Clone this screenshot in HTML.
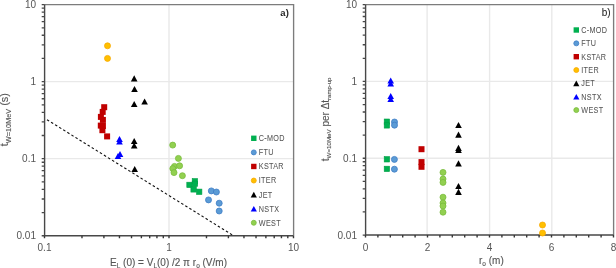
<!DOCTYPE html>
<html><head><meta charset="utf-8"><style>
html,body{margin:0;padding:0;background:#fff;width:616px;height:268px;overflow:hidden}
svg{display:block;will-change:transform;font-family:"Liberation Sans",sans-serif}
</style></head><body>
<svg width="616" height="268" viewBox="0 0 616 268">
<path d="M44.5 81.64999999999999H293.5M44.5 158.7H293.5" stroke="#e9e9e9" stroke-width="1.3" fill="none"/>
<path d="M169.0 4.6V235.75" stroke="#e9e9e9" stroke-width="1.4" fill="none"/>
<path d="M44.5 4.6H293.6V235.75" fill="none" stroke="#7c7c7c" stroke-width="1.35"/>
<path d="M44.6 4.6V235.75H293.5" fill="none" stroke="#484848" stroke-width="1.4"/>
<path d="M41.7 4.6H44.5M41.7 81.64999999999999H44.5M41.7 158.7H44.5M41.7 235.74999999999997H44.5M41.7 58.46H44.5M41.7 44.89H44.5M41.7 35.26H44.5M41.7 27.79H44.5M41.7 21.69H44.5M41.7 16.54H44.5M41.7 12.07H44.5M41.7 8.13H44.5M41.7 135.51H44.5M41.7 121.94H44.5M41.7 112.31H44.5M41.7 104.84H44.5M41.7 98.74H44.5M41.7 93.59H44.5M41.7 89.12H44.5M41.7 85.18H44.5M41.7 212.56H44.5M41.7 198.99H44.5M41.7 189.36H44.5M41.7 181.89H44.5M41.7 175.79H44.5M41.7 170.64H44.5M41.7 166.17H44.5M41.7 162.23H44.5" stroke="#484848" stroke-width="1.3" fill="none"/>
<path d="M44.50 235.75V238.15M169.00 235.75V238.15M293.50 235.75V238.15M81.98 235.75V238.15M103.90 235.75V238.15M119.46 235.75V238.15M131.52 235.75V238.15M141.38 235.75V238.15M149.71 235.75V238.15M156.93 235.75V238.15M163.30 235.75V238.15M206.48 235.75V238.15M228.40 235.75V238.15M243.96 235.75V238.15M256.02 235.75V238.15M265.88 235.75V238.15M274.21 235.75V238.15M281.43 235.75V238.15M287.80 235.75V238.15" stroke="#383838" stroke-width="1.4" fill="none"/>
<text x="36.0" y="8.2" font-size="10" text-anchor="end" fill="#555555" font-weight="normal">10</text>
<text x="36.0" y="85.24999999999999" font-size="10" text-anchor="end" fill="#555555" font-weight="normal">1</text>
<text x="36.0" y="162.29999999999998" font-size="10" text-anchor="end" fill="#555555" font-weight="normal">0.1</text>
<text x="36.0" y="239.34999999999997" font-size="10" text-anchor="end" fill="#555555" font-weight="normal">0.01</text>
<text x="44.5" y="250.6" font-size="10" text-anchor="middle" fill="#555555" font-weight="normal">0.1</text>
<text x="169.0" y="250.6" font-size="10" text-anchor="middle" fill="#555555" font-weight="normal">1</text>
<text x="293.5" y="250.6" font-size="10" text-anchor="middle" fill="#555555" font-weight="normal">10</text>
<text x="288.8" y="16.4" font-size="9.5" text-anchor="end" fill="#262626" font-weight="bold">a)</text>
<text x="110" y="265.7" font-size="10" fill="#555555" stroke="#555555" stroke-width="0.12">E<tspan font-size="6.5" dy="2">L</tspan><tspan dy="-2"> (0) = V</tspan><tspan font-size="6.5" dy="2">L</tspan><tspan dy="-2">(0) /2 π r</tspan><tspan font-size="6.5" dy="2">o</tspan><tspan dy="-2"> (V/m)</tspan></text>
<text transform="translate(8.3 146.2) rotate(-90)" font-size="11" fill="#555555" stroke="#555555" stroke-width="0.12">t<tspan font-size="7.3" dy="2.2">W=10MeV</tspan><tspan dy="-2.2"> (s)</tspan></text>
<path d="M46.2 119.2L232.4 235.0" stroke="#111" stroke-width="1.1" stroke-dasharray="2.55 2.24" stroke-dashoffset="-0.9" fill="none"/>
<circle cx="107.50" cy="45.80" r="3.0" fill="#ffc000" stroke="#f7a800" stroke-width="0.8"/>
<circle cx="107.50" cy="58.40" r="3.0" fill="#ffc000" stroke="#f7a800" stroke-width="0.8"/>
<rect x="101.20" y="104.20" width="6.00" height="6.00" fill="#c00000"/>
<rect x="99.70" y="108.90" width="6.00" height="6.00" fill="#c00000"/>
<rect x="97.90" y="113.90" width="6.00" height="6.00" fill="#c00000"/>
<rect x="99.90" y="116.90" width="6.00" height="6.00" fill="#c00000"/>
<rect x="97.80" y="122.60" width="6.00" height="6.00" fill="#c00000"/>
<rect x="99.90" y="123.00" width="6.00" height="6.00" fill="#c00000"/>
<rect x="99.40" y="127.20" width="6.00" height="6.00" fill="#c00000"/>
<rect x="104.10" y="133.40" width="6.00" height="6.00" fill="#c00000"/>
<path d="M134.20 75.20L137.50 81.40L130.90 81.40Z" fill="#000000"/>
<path d="M134.50 85.90L137.80 92.10L131.20 92.10Z" fill="#000000"/>
<path d="M134.20 100.90L137.50 107.10L130.90 107.10Z" fill="#000000"/>
<path d="M144.60 98.40L147.90 104.60L141.30 104.60Z" fill="#000000"/>
<path d="M134.20 137.90L137.50 144.10L130.90 144.10Z" fill="#000000"/>
<path d="M134.20 142.40L137.50 148.60L130.90 148.60Z" fill="#000000"/>
<path d="M134.70 165.90L138.00 172.10L131.40 172.10Z" fill="#000000"/>
<path d="M119.50 135.90L122.80 142.10L116.20 142.10Z" fill="#0000ff"/>
<path d="M119.50 138.40L122.80 144.60L116.20 144.60Z" fill="#0000ff"/>
<path d="M120.00 150.90L123.30 157.10L116.70 157.10Z" fill="#0000ff"/>
<path d="M118.00 152.90L121.30 159.10L114.70 159.10Z" fill="#0000ff"/>
<circle cx="172.70" cy="145.10" r="3.0" fill="#92d050" stroke="#7abd3e" stroke-width="0.8"/>
<circle cx="178.40" cy="158.40" r="3.0" fill="#92d050" stroke="#7abd3e" stroke-width="0.8"/>
<circle cx="174.50" cy="166.40" r="3.0" fill="#92d050" stroke="#7abd3e" stroke-width="0.8"/>
<circle cx="179.60" cy="165.80" r="3.0" fill="#92d050" stroke="#7abd3e" stroke-width="0.8"/>
<circle cx="172.80" cy="168.60" r="3.0" fill="#92d050" stroke="#7abd3e" stroke-width="0.8"/>
<circle cx="174.00" cy="172.60" r="3.0" fill="#92d050" stroke="#7abd3e" stroke-width="0.8"/>
<circle cx="182.40" cy="175.70" r="3.0" fill="#92d050" stroke="#7abd3e" stroke-width="0.8"/>
<rect x="192.20" y="178.60" width="5.40" height="5.40" fill="#00b050" stroke="#00a046" stroke-width="0.6"/>
<rect x="186.80" y="182.20" width="5.40" height="5.40" fill="#00b050" stroke="#00a046" stroke-width="0.6"/>
<rect x="192.20" y="181.10" width="5.40" height="5.40" fill="#00b050" stroke="#00a046" stroke-width="0.6"/>
<rect x="190.90" y="186.70" width="5.40" height="5.40" fill="#00b050" stroke="#00a046" stroke-width="0.6"/>
<rect x="196.50" y="189.10" width="5.40" height="5.40" fill="#00b050" stroke="#00a046" stroke-width="0.6"/>
<circle cx="211.30" cy="190.90" r="3.0" fill="#5b9bd5" stroke="#3f7ec6" stroke-width="0.8"/>
<circle cx="216.40" cy="192.00" r="3.0" fill="#5b9bd5" stroke="#3f7ec6" stroke-width="0.8"/>
<circle cx="208.50" cy="199.90" r="3.0" fill="#5b9bd5" stroke="#3f7ec6" stroke-width="0.8"/>
<circle cx="219.20" cy="203.20" r="3.0" fill="#5b9bd5" stroke="#3f7ec6" stroke-width="0.8"/>
<circle cx="219.20" cy="211.00" r="3.0" fill="#5b9bd5" stroke="#3f7ec6" stroke-width="0.8"/>
<rect x="251.10" y="135.60" width="5.40" height="5.40" fill="#00b050"/>
<text transform="translate(258.8 141.20) scale(0.86 1)" font-size="8.4" letter-spacing="0.35" fill="#555555" stroke="#555555" stroke-width="0.05">C-MOD</text>
<circle cx="253.80" cy="152.38" r="2.5" fill="#5b9bd5" stroke="#3f7ec6" stroke-width="0.8"/>
<text transform="translate(258.8 155.28) scale(0.86 1)" font-size="8.4" letter-spacing="0.35" fill="#555555" stroke="#555555" stroke-width="0.05">FTU</text>
<rect x="251.10" y="163.76" width="5.40" height="5.40" fill="#c00000"/>
<text transform="translate(258.8 169.36) scale(0.86 1)" font-size="8.4" letter-spacing="0.35" fill="#555555" stroke="#555555" stroke-width="0.05">KSTAR</text>
<circle cx="253.80" cy="180.54" r="2.5" fill="#ffc000" stroke="#f7a800" stroke-width="0.8"/>
<text transform="translate(258.8 183.44) scale(0.86 1)" font-size="8.4" letter-spacing="0.35" fill="#555555" stroke="#555555" stroke-width="0.05">ITER</text>
<path d="M253.80 191.82L256.90 197.42L250.70 197.42Z" fill="#000000"/>
<text transform="translate(258.8 197.52) scale(0.86 1)" font-size="8.4" letter-spacing="0.35" fill="#555555" stroke="#555555" stroke-width="0.05">JET</text>
<path d="M253.80 205.90L256.90 211.50L250.70 211.50Z" fill="#0000ff"/>
<text transform="translate(258.8 211.60) scale(0.86 1)" font-size="8.4" letter-spacing="0.35" fill="#555555" stroke="#555555" stroke-width="0.05">NSTX</text>
<circle cx="253.80" cy="222.78" r="2.5" fill="#92d050" stroke="#7abd3e" stroke-width="0.8"/>
<text transform="translate(258.8 225.68) scale(0.86 1)" font-size="8.4" letter-spacing="0.35" fill="#555555" stroke="#555555" stroke-width="0.05">WEST</text>
<path d="M365.5 81.41666666666667H613.5M365.5 158.23333333333335H613.5" stroke="#e9e9e9" stroke-width="1.3" fill="none"/>
<path d="M427.1 4.6V235.05M489.6 4.6V235.05M551.8 4.6V235.05" stroke="#e9e9e9" stroke-width="1.4" fill="none"/>
<path d="M365.5 4.6H613.6V235.05" fill="none" stroke="#7c7c7c" stroke-width="1.35"/>
<path d="M365.6 4.6V235.05H613.5" fill="none" stroke="#484848" stroke-width="1.4"/>
<path d="M362.7 4.6H365.5M362.7 81.41666666666667H365.5M362.7 158.23333333333335H365.5M362.7 235.05000000000004H365.5M362.7 58.29H365.5M362.7 44.77H365.5M362.7 35.17H365.5M362.7 27.72H365.5M362.7 21.64H365.5M362.7 16.50H365.5M362.7 12.04H365.5M362.7 8.11H365.5M362.7 135.11H365.5M362.7 121.58H365.5M362.7 111.99H365.5M362.7 104.54H365.5M362.7 98.46H365.5M362.7 93.32H365.5M362.7 88.86H365.5M362.7 84.93H365.5M362.7 211.93H365.5M362.7 198.40H365.5M362.7 188.80H365.5M362.7 181.36H365.5M362.7 175.28H365.5M362.7 170.13H365.5M362.7 165.68H365.5M362.7 161.75H365.5" stroke="#484848" stroke-width="1.3" fill="none"/>
<path d="M365.50 235.05V237.45000000000002M377.90 235.05V237.45000000000002M390.30 235.05V237.45000000000002M402.70 235.05V237.45000000000002M415.10 235.05V237.45000000000002M427.50 235.05V237.45000000000002M439.90 235.05V237.45000000000002M452.30 235.05V237.45000000000002M464.70 235.05V237.45000000000002M477.10 235.05V237.45000000000002M489.50 235.05V237.45000000000002M501.90 235.05V237.45000000000002M514.30 235.05V237.45000000000002M526.70 235.05V237.45000000000002M539.10 235.05V237.45000000000002M551.50 235.05V237.45000000000002M563.90 235.05V237.45000000000002M576.30 235.05V237.45000000000002M588.70 235.05V237.45000000000002M601.10 235.05V237.45000000000002M613.50 235.05V237.45000000000002" stroke="#383838" stroke-width="1.4" fill="none"/>
<text x="357.0" y="8.2" font-size="10" text-anchor="end" fill="#555555" font-weight="normal">10</text>
<text x="357.0" y="85.01666666666667" font-size="10" text-anchor="end" fill="#555555" font-weight="normal">1</text>
<text x="357.0" y="161.83333333333334" font-size="10" text-anchor="end" fill="#555555" font-weight="normal">0.1</text>
<text x="357.0" y="238.65000000000003" font-size="10" text-anchor="end" fill="#555555" font-weight="normal">0.01</text>
<text x="365.5" y="250.6" font-size="10" text-anchor="middle" fill="#555555" font-weight="normal">0</text>
<text x="427.5" y="250.6" font-size="10" text-anchor="middle" fill="#555555" font-weight="normal">2</text>
<text x="489.5" y="250.6" font-size="10" text-anchor="middle" fill="#555555" font-weight="normal">4</text>
<text x="551.5" y="250.6" font-size="10" text-anchor="middle" fill="#555555" font-weight="normal">6</text>
<text x="613.5" y="250.6" font-size="10" text-anchor="middle" fill="#555555" font-weight="normal">8</text>
<text x="610.6" y="16.2" font-size="10" text-anchor="end" fill="#222222" font-weight="normal" stroke="#262626" stroke-width="0.05">b)</text>
<text x="479" y="264" font-size="10" fill="#555555" stroke="#555555" stroke-width="0.12">r<tspan font-size="6.5" dy="2">o</tspan><tspan dy="-2"> (m)</tspan></text>
<text transform="translate(328.5 161.2) rotate(-90)" font-size="10" fill="#555555" stroke="#555555" stroke-width="0.12">t<tspan font-size="6.2" dy="2">W=10MeV</tspan><tspan dy="-2"> per Δt</tspan><tspan font-size="6" dy="2">ramp-up</tspan></text>
<path d="M390.70 77.40L394.00 83.60L387.40 83.60Z" fill="#0000ff"/>
<path d="M390.70 80.40L394.00 86.60L387.40 86.60Z" fill="#0000ff"/>
<path d="M390.70 92.90L394.00 99.10L387.40 99.10Z" fill="#0000ff"/>
<path d="M390.70 95.90L394.00 102.10L387.40 102.10Z" fill="#0000ff"/>
<rect x="384.20" y="119.00" width="5.40" height="5.40" fill="#00b050" stroke="#00a046" stroke-width="0.6"/>
<rect x="384.20" y="122.70" width="5.40" height="5.40" fill="#00b050" stroke="#00a046" stroke-width="0.6"/>
<rect x="384.20" y="156.60" width="5.40" height="5.40" fill="#00b050" stroke="#00a046" stroke-width="0.6"/>
<rect x="384.20" y="166.20" width="5.40" height="5.40" fill="#00b050" stroke="#00a046" stroke-width="0.6"/>
<circle cx="394.50" cy="122.00" r="3.0" fill="#5b9bd5" stroke="#3f7ec6" stroke-width="0.8"/>
<circle cx="394.50" cy="125.20" r="3.0" fill="#5b9bd5" stroke="#3f7ec6" stroke-width="0.8"/>
<circle cx="394.40" cy="159.40" r="3.0" fill="#5b9bd5" stroke="#3f7ec6" stroke-width="0.8"/>
<circle cx="394.40" cy="169.20" r="3.0" fill="#5b9bd5" stroke="#3f7ec6" stroke-width="0.8"/>
<rect x="418.50" y="146.20" width="6.00" height="6.00" fill="#c00000"/>
<rect x="418.50" y="159.10" width="6.00" height="6.00" fill="#c00000"/>
<rect x="418.50" y="163.80" width="6.00" height="6.00" fill="#c00000"/>
<circle cx="443.00" cy="172.40" r="3.0" fill="#92d050" stroke="#7abd3e" stroke-width="0.8"/>
<circle cx="443.00" cy="179.00" r="3.0" fill="#92d050" stroke="#7abd3e" stroke-width="0.8"/>
<circle cx="443.00" cy="182.40" r="3.0" fill="#92d050" stroke="#7abd3e" stroke-width="0.8"/>
<circle cx="443.00" cy="197.20" r="3.0" fill="#92d050" stroke="#7abd3e" stroke-width="0.8"/>
<circle cx="443.00" cy="203.00" r="3.0" fill="#92d050" stroke="#7abd3e" stroke-width="0.8"/>
<circle cx="443.00" cy="206.00" r="3.0" fill="#92d050" stroke="#7abd3e" stroke-width="0.8"/>
<circle cx="443.00" cy="212.20" r="3.0" fill="#92d050" stroke="#7abd3e" stroke-width="0.8"/>
<path d="M458.50 121.90L461.80 128.10L455.20 128.10Z" fill="#000000"/>
<path d="M458.50 131.60L461.80 137.80L455.20 137.80Z" fill="#000000"/>
<path d="M458.50 144.70L461.80 150.90L455.20 150.90Z" fill="#000000"/>
<path d="M458.50 146.90L461.80 153.10L455.20 153.10Z" fill="#000000"/>
<path d="M458.50 160.30L461.80 166.50L455.20 166.50Z" fill="#000000"/>
<path d="M458.50 182.90L461.80 189.10L455.20 189.10Z" fill="#000000"/>
<path d="M458.50 188.70L461.80 194.90L455.20 194.90Z" fill="#000000"/>
<circle cx="542.50" cy="225.00" r="3.0" fill="#ffc000" stroke="#f7a800" stroke-width="0.8"/>
<circle cx="542.50" cy="233.00" r="3.0" fill="#ffc000" stroke="#f7a800" stroke-width="0.8"/>
<rect x="573.60" y="27.30" width="5.40" height="5.40" fill="#00b050"/>
<text transform="translate(581.3 32.90) scale(0.86 1)" font-size="8.4" letter-spacing="0.35" fill="#555555" stroke="#555555" stroke-width="0.05">C-MOD</text>
<circle cx="576.30" cy="43.35" r="2.5" fill="#5b9bd5" stroke="#3f7ec6" stroke-width="0.8"/>
<text transform="translate(581.3 46.25) scale(0.86 1)" font-size="8.4" letter-spacing="0.35" fill="#555555" stroke="#555555" stroke-width="0.05">FTU</text>
<rect x="573.60" y="54.00" width="5.40" height="5.40" fill="#c00000"/>
<text transform="translate(581.3 59.60) scale(0.86 1)" font-size="8.4" letter-spacing="0.35" fill="#555555" stroke="#555555" stroke-width="0.05">KSTAR</text>
<circle cx="576.30" cy="70.05" r="2.5" fill="#ffc000" stroke="#f7a800" stroke-width="0.8"/>
<text transform="translate(581.3 72.95) scale(0.86 1)" font-size="8.4" letter-spacing="0.35" fill="#555555" stroke="#555555" stroke-width="0.05">ITER</text>
<path d="M576.30 80.60L579.40 86.20L573.20 86.20Z" fill="#000000"/>
<text transform="translate(581.3 86.30) scale(0.86 1)" font-size="8.4" letter-spacing="0.35" fill="#555555" stroke="#555555" stroke-width="0.05">JET</text>
<path d="M576.30 93.95L579.40 99.55L573.20 99.55Z" fill="#0000ff"/>
<text transform="translate(581.3 99.65) scale(0.86 1)" font-size="8.4" letter-spacing="0.35" fill="#555555" stroke="#555555" stroke-width="0.05">NSTX</text>
<circle cx="576.30" cy="110.10" r="2.5" fill="#92d050" stroke="#7abd3e" stroke-width="0.8"/>
<text transform="translate(581.3 113.00) scale(0.86 1)" font-size="8.4" letter-spacing="0.35" fill="#555555" stroke="#555555" stroke-width="0.05">WEST</text>
</svg>
</body></html>
